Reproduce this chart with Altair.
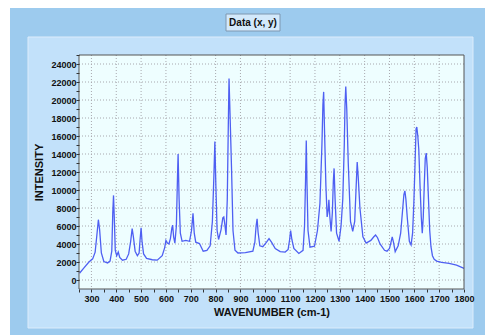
import altair as alt
import pandas as pd

# ---- data ----
wavenumber = [252, 270, 290, 305, 315, 322, 328, 333, 340, 350, 365, 375, 382, 386, 389, 392, 396,
              402, 408, 414, 425, 440, 450, 458, 464, 469, 476, 485, 492, 496, 500, 504, 510, 522,
              545, 565, 585, 595, 600, 606, 612, 618, 624, 627, 631, 636, 642, 647, 649, 653, 658,
              665, 680, 695, 703, 709, 714, 720, 735, 750, 765, 778, 787, 793, 797, 801, 806, 812,
              822, 829, 833, 837, 842, 847, 851, 854, 858, 864, 870, 878, 890, 920, 950, 958, 963,
              967, 971, 978, 990, 1005, 1015, 1025, 1040, 1060, 1080, 1092, 1098, 1102, 1107, 1115,
              1135, 1152, 1158, 1162, 1165, 1168, 1172, 1180, 1198, 1210, 1220, 1228, 1232, 1235,
              1239, 1244, 1249, 1253, 1256, 1260, 1265, 1270, 1274, 1277, 1281, 1287, 1297, 1305,
              1312, 1318, 1321, 1324, 1328, 1334, 1343, 1352, 1360, 1366, 1370, 1374, 1381, 1393,
              1406, 1425, 1437, 1444, 1452, 1462, 1480, 1490, 1500, 1507, 1511, 1516, 1523, 1535,
              1545, 1552, 1558, 1562, 1566, 1572, 1580, 1587, 1593, 1598, 1603, 1607, 1610, 1614,
              1618, 1623, 1628, 1632, 1636, 1640, 1644, 1648, 1652, 1657, 1662, 1667, 1673, 1680,
              1690, 1710, 1740, 1770, 1800]
intensity = [750, 1350, 2000, 2350, 3100, 5000, 6700, 5600, 3000, 2050, 1900, 2100, 3200, 7500, 9400,
             7000, 3300, 2700, 3100, 2500, 2200, 2300, 2900, 4300, 5700, 4800, 3200, 2700, 3000, 4500,
             5800, 4200, 2900, 2400, 2250, 2200, 2700, 3600, 4400, 4100, 4000, 4600, 5800, 6100, 4800,
             4100, 6000, 12000, 14000, 9000, 5200, 4300, 4400, 4300, 5500, 7400, 5200, 4200, 4050,
             3200, 3300, 3800, 6500, 11500, 15400, 10500, 5500, 4500, 5600, 6900, 7000, 6200, 5000,
             9000, 17000, 22400, 18500, 12500, 5500, 3300, 3000, 3050, 3200, 4200, 6000, 6800, 5300,
             3800, 3700, 4200, 4600, 4200, 3500, 3150, 3100, 3400, 4500, 5500, 4500, 3500, 2950, 3300,
             6000, 11000, 15500, 10500, 5500, 3650, 3750, 5500, 8500, 15000, 19500, 20900, 16000,
             10500, 7000, 7700, 8900, 7000, 5400, 7500, 11000, 12400, 9000, 5200, 4300, 6000, 9000,
             15000, 19500, 21500, 19000, 13000, 6500, 5400, 6500, 10500, 13100, 11500, 8000, 4800,
             4100, 4400, 4800, 5000, 4700, 4000, 3300, 3200, 3500, 4300, 4800, 4200, 3150, 3800, 5200,
             7500, 9500, 9900, 9000, 6800, 4300, 3900, 5200, 8500, 13000, 16800, 17000, 16000, 14500,
             10500, 7000, 5200, 7000, 10500, 13500, 14100, 12500, 9000, 5500, 3700, 2700, 2300, 2100,
             1950, 1850, 1650, 1300]

x_grid = [300, 400, 500, 600, 700, 800, 900, 1000, 1100, 1200, 1300, 1400, 1500, 1600, 1700]
y_grid = [0, 2000, 4000, 6000, 8000, 10000, 12000, 14000, 16000, 18000, 20000, 22000, 24000]
x_ticks = list(range(250, 1801, 50))
y_ticks = list(range(0, 25001, 1000))
chart_title = "Data (x, y)"
x_title = "WAVENUMBER (cm-1)"
y_title = "INTENSITY"

W, H = 385, 234
FONT = "Liberation Sans"

spec = pd.DataFrame({"wn": wavenumber, "inten": intensity})
one = pd.DataFrame({"a": [0]})

xscale = alt.Scale(domain=[250, 1800], nice=False, zero=False)
yscale = alt.Scale(domain=[-1000, 25000], nice=False, zero=False)

xaxis = alt.Axis(
    values=x_ticks, format="d",
    labelExpr="datum.value % 100 == 0 ? datum.label : ''",
    grid=False, domain=False, tickSize=3, tickColor="#333", labelPadding=2,
    labelFont=FONT, labelFontSize=9, labelFontWeight="bold", labelColor="#111",
    labelFlush=False, labelOverlap=False,
    title=x_title, titleFont=FONT, titleFontSize=11, titleFontWeight="bold",
    titleColor="#111", titleY=23, titleBaseline="middle", zindex=2)
yaxis = alt.Axis(
    values=y_ticks, format="d",
    labelExpr="(datum.value % 2000 == 0 && datum.value <= 24000) ? datum.label : ''",
    grid=False, domain=False, tickSize=3, tickColor="#333", labelPadding=0,
    labelFont=FONT, labelFontSize=9, labelFontWeight="bold", labelColor="#111",
    labelFlush=False, labelOverlap=False,
    title=y_title, titleFont=FONT, titleFontSize=11, titleFontWeight="bold",
    titleColor="#111", titleX=-40, titleY=H / 2, titleAngle=270,
    titleAlign="center", titleBaseline="middle", zindex=2)

outer = alt.Chart(one).mark_rect(color="#9dcbee").encode(
    x=alt.value(-69), x2=alt.value(406), y=alt.value(-47), y2=alt.value(280))
inner = alt.Chart(one).mark_rect(color="#c2e1fa", stroke="#dcecfb", strokeWidth=1).encode(
    x=alt.value(-51), x2=alt.value(394), y=alt.value(-18), y2=alt.value(273))
tbox = alt.Chart(one).mark_rect(color="#d3e9fb", stroke="#7f97b0", strokeWidth=1).encode(
    x=alt.value(147), x2=alt.value(201), y=alt.value(-41), y2=alt.value(-24))
ttext = alt.Chart(pd.DataFrame({"t": [chart_title]})).mark_text(
    font=FONT, fontSize=10, fontWeight="bold", color="#111", align="center", baseline="middle"
).encode(x=alt.value(174), y=alt.value(-32), text="t:N")
pfill = alt.Chart(one).mark_rect(color="#eefeff").encode(
    x=alt.value(0), x2=alt.value(W), y=alt.value(0), y2=alt.value(H))

vgrid = alt.Chart(pd.DataFrame({"g": x_grid})).mark_rule(
    color="#a8a8ae", strokeDash=[1, 2], strokeWidth=1
).encode(x=alt.X("g:Q", scale=xscale, axis=xaxis, title=x_title))
hgrid = alt.Chart(pd.DataFrame({"gy": y_grid})).mark_rule(
    color="#a8a8ae", strokeDash=[1, 2], strokeWidth=1
).encode(y=alt.Y("gy:Q", scale=yscale, axis=yaxis, title=y_title))

line = alt.Chart(spec).mark_line(color="#4e5ff2", strokeWidth=1.3).encode(
    x=alt.X("wn:Q", scale=xscale, axis=xaxis, title=x_title),
    y=alt.Y("inten:Q", scale=yscale, axis=yaxis, title=y_title),
)

frame = alt.Chart(one).mark_rect(fill="transparent", stroke="#555", strokeWidth=1).encode(
    x=alt.value(0), x2=alt.value(W), y=alt.value(0), y2=alt.value(H))

chart = alt.layer(outer, inner, tbox, ttext, pfill, vgrid, hgrid, line, frame).properties(
    width=W, height=H,
    autosize=alt.AutoSizeParams(type="none"),
    padding={"left": 79, "top": 55, "right": 21, "bottom": 46},
    background="white",
).configure_view(stroke=None)

chart.save("out.html", embed_options={"renderer": "svg", "actions": False})
